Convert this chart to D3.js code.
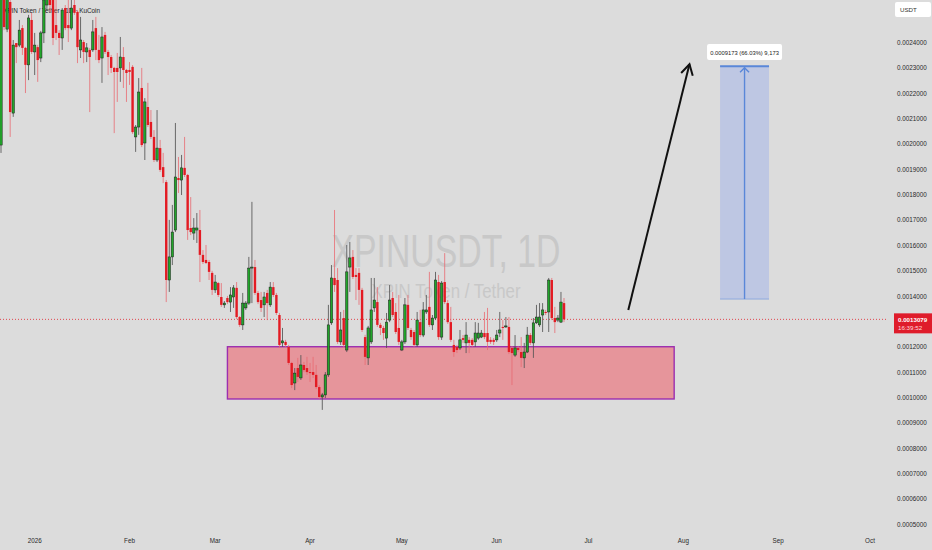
<!DOCTYPE html>
<html>
<head>
<meta charset="utf-8">
<script src="https://cdn.jsdelivr.net/npm/d3@7"></script>
<style>
  body { margin: 0; background: #dcdcdc; }
  svg { display: block; font-family: "Liberation Sans", Arial, sans-serif; }
</style>
</head>
<body>
<div id="chart"></div>
<script>
// daily candles, first one on this day
const firstDay = '2025-12-21';

const open = [
  0.001995, 0.002586, 0.002452, 0.002559, 0.002121, 0.002397, 0.002389, 0.002456, 0.002378, 0.002311,
  0.002488, 0.002362, 0.002381, 0.002338, 0.002437, 0.002547, 0.002626, 0.002567, 0.002468, 0.002437,
  0.002417, 0.002535, 0.002468, 0.002456, 0.002547, 0.002520, 0.002370, 0.002401, 0.002362, 0.002370,
  0.002370, 0.002456, 0.002370, 0.002338, 0.002429, 0.002362, 0.002342, 0.002299, 0.002299, 0.002299,
  0.002342, 0.002291, 0.002291, 0.002303, 0.002027, 0.002066, 0.002220, 0.002003, 0.002145, 0.002086,
  0.002027, 0.001936, 0.001983, 0.001908, 0.001849, 0.001463, 0.001554, 0.001660, 0.001865, 0.001857,
  0.001905, 0.001877, 0.001668, 0.001648, 0.001660, 0.001660, 0.001562, 0.001542, 0.001534, 0.001491,
  0.001424, 0.001451, 0.001396, 0.001365, 0.001392, 0.001376, 0.001396, 0.001432, 0.001317, 0.001286,
  0.001353, 0.001372, 0.001510, 0.001514, 0.001412, 0.001384, 0.001365, 0.001412, 0.001365, 0.001435,
  0.001404, 0.001325, 0.001215, 0.001219, 0.001199, 0.001136, 0.001057, 0.001116, 0.001077, 0.001128,
  0.001116, 0.001100, 0.001100, 0.001089, 0.001041, 0.001002, 0.001010, 0.001089, 0.001294, 0.001471,
  0.001463, 0.001219, 0.001313, 0.001187, 0.001514, 0.001554, 0.001483, 0.001491, 0.001424, 0.001238,
  0.001156, 0.001219, 0.001353, 0.001376, 0.001286, 0.001274, 0.001234, 0.001305, 0.001392, 0.001337,
  0.001274, 0.001187, 0.001219, 0.001365, 0.001266, 0.001258, 0.001207, 0.001297, 0.001246, 0.001337,
  0.001357, 0.001286, 0.001313, 0.001455, 0.001238, 0.001455, 0.001372, 0.001297, 0.001207, 0.001199,
  0.001195, 0.001234, 0.001215, 0.001227, 0.001227, 0.001219, 0.001234, 0.001238, 0.001254, 0.001254,
  0.001227, 0.001227, 0.001227, 0.001254, 0.001278, 0.001278, 0.001278, 0.001195, 0.001167, 0.001195,
  0.001179, 0.001156, 0.001179, 0.001246, 0.001215, 0.001294, 0.001286, 0.001325, 0.001337, 0.001337,
  0.001463, 0.001313, 0.001305, 0.001297, 0.001372
];
const high = [
  0.002606, 0.002595, 0.002590, 0.002575, 0.002409, 0.002397, 0.002488, 0.002468, 0.002382, 0.002508,
  0.002516, 0.002437, 0.002390, 0.002445, 0.002586, 0.002653, 0.002646, 0.002575, 0.002567, 0.002448,
  0.002535, 0.002547, 0.002567, 0.002567, 0.002586, 0.002527, 0.002500, 0.002409, 0.002397, 0.002378,
  0.002488, 0.002500, 0.002429, 0.002460, 0.002441, 0.002370, 0.002350, 0.002303, 0.002358, 0.002421,
  0.002381, 0.002295, 0.002322, 0.002310, 0.002074, 0.002259, 0.002299, 0.002180, 0.002240, 0.002133,
  0.002054, 0.002133, 0.002015, 0.001964, 0.001857, 0.001700, 0.001759, 0.002082, 0.001948, 0.001956,
  0.002027, 0.001881, 0.001790, 0.001707, 0.001727, 0.001739, 0.001581, 0.001601, 0.001542, 0.001499,
  0.001483, 0.001455, 0.001451, 0.001380, 0.001400, 0.001435, 0.001443, 0.001455, 0.001321, 0.001412,
  0.001380, 0.001554, 0.001771, 0.001542, 0.001420, 0.001416, 0.001416, 0.001424, 0.001455, 0.001455,
  0.001412, 0.001333, 0.001274, 0.001227, 0.001207, 0.001140, 0.001116, 0.001156, 0.001167, 0.001140,
  0.001160, 0.001136, 0.001160, 0.001128, 0.001049, 0.001018, 0.001100, 0.001365, 0.001522, 0.001739,
  0.001510, 0.001337, 0.001345, 0.001601, 0.001613, 0.001581, 0.001510, 0.001510, 0.001432, 0.001247,
  0.001282, 0.001471, 0.001471, 0.001435, 0.001294, 0.001282, 0.001333, 0.001443, 0.001416, 0.001372,
  0.001404, 0.001227, 0.001392, 0.001404, 0.001274, 0.001266, 0.001337, 0.001345, 0.001376, 0.001404,
  0.001495, 0.001325, 0.001495, 0.001483, 0.001459, 0.001569, 0.001384, 0.001357, 0.001227, 0.001207,
  0.001266, 0.001246, 0.001297, 0.001238, 0.001234, 0.001297, 0.001294, 0.001266, 0.001337, 0.001353,
  0.001238, 0.001234, 0.001266, 0.001337, 0.001305, 0.001317, 0.001317, 0.001203, 0.001246, 0.001203,
  0.001238, 0.001215, 0.001278, 0.001254, 0.001313, 0.001365, 0.001372, 0.001372, 0.001345, 0.001471,
  0.001471, 0.001357, 0.001325, 0.001416, 0.001392
];
const low = [
  0.001964, 0.002448, 0.002440, 0.002027, 0.002106, 0.002318, 0.002381, 0.002350, 0.002200, 0.002251,
  0.002354, 0.002271, 0.002244, 0.002322, 0.002397, 0.002527, 0.002520, 0.002389, 0.002409, 0.002350,
  0.002370, 0.002448, 0.002401, 0.002448, 0.002508, 0.002318, 0.002338, 0.002318, 0.002322, 0.002125,
  0.002362, 0.002330, 0.002318, 0.002240, 0.002354, 0.002271, 0.002279, 0.002042, 0.002165, 0.002244,
  0.002220, 0.002165, 0.002232, 0.002039, 0.001968, 0.002035, 0.001987, 0.001936, 0.002066, 0.002019,
  0.001928, 0.001928, 0.001889, 0.001845, 0.001376, 0.001416, 0.001522, 0.001652, 0.001806, 0.001798,
  0.001869, 0.001621, 0.001640, 0.001621, 0.001609, 0.001455, 0.001526, 0.001526, 0.001463, 0.001404,
  0.001412, 0.001396, 0.001357, 0.001353, 0.001368, 0.001337, 0.001353, 0.001309, 0.001278, 0.001266,
  0.001345, 0.001365, 0.001372, 0.001404, 0.001368, 0.001337, 0.001317, 0.001305, 0.001357, 0.001396,
  0.001325, 0.001195, 0.001199, 0.001199, 0.001128, 0.001037, 0.001029, 0.001061, 0.001069, 0.001100,
  0.001089, 0.001061, 0.001077, 0.001033, 0.000994, 0.000951, 0.000998, 0.001081, 0.001286, 0.001416,
  0.001211, 0.001207, 0.001195, 0.001179, 0.001416, 0.001467, 0.001384, 0.001365, 0.001258, 0.001128,
  0.001128, 0.001211, 0.001337, 0.001278, 0.001246, 0.001227, 0.001195, 0.001297, 0.001317, 0.001250,
  0.001207, 0.001183, 0.001211, 0.001266, 0.001227, 0.001199, 0.001199, 0.001238, 0.001238, 0.001329,
  0.001278, 0.001266, 0.001305, 0.001227, 0.001227, 0.001368, 0.001290, 0.001219, 0.001160, 0.001175,
  0.001187, 0.001215, 0.001175, 0.001175, 0.001199, 0.001199, 0.001227, 0.001234, 0.001230, 0.001187,
  0.001211, 0.001207, 0.001219, 0.001238, 0.001227, 0.001274, 0.001171, 0.001049, 0.001160, 0.001179,
  0.001120, 0.001116, 0.001175, 0.001207, 0.001156, 0.001290, 0.001278, 0.001258, 0.001325, 0.001258,
  0.001305, 0.001254, 0.001297, 0.001294, 0.001297
];
const close = [
  0.002586, 0.002460, 0.002579, 0.002125, 0.002389, 0.002381, 0.002448, 0.002378, 0.002311, 0.002496,
  0.002362, 0.002389, 0.002330, 0.002437, 0.002567, 0.002626, 0.002547, 0.002417, 0.002437, 0.002417,
  0.002527, 0.002456, 0.002456, 0.002535, 0.002516, 0.002381, 0.002409, 0.002362, 0.002378, 0.002342,
  0.002441, 0.002370, 0.002330, 0.002421, 0.002362, 0.002342, 0.002299, 0.002283, 0.002283, 0.002342,
  0.002291, 0.002279, 0.002283, 0.002046, 0.002066, 0.002204, 0.001995, 0.002165, 0.002074, 0.002027,
  0.001936, 0.001983, 0.001897, 0.001869, 0.001463, 0.001554, 0.001652, 0.001869, 0.001857, 0.001905,
  0.001877, 0.001660, 0.001652, 0.001668, 0.001668, 0.001562, 0.001534, 0.001530, 0.001495, 0.001424,
  0.001455, 0.001404, 0.001365, 0.001372, 0.001376, 0.001404, 0.001432, 0.001317, 0.001286, 0.001372,
  0.001372, 0.001510, 0.001514, 0.001412, 0.001376, 0.001353, 0.001396, 0.001372, 0.001435, 0.001404,
  0.001333, 0.001207, 0.001223, 0.001207, 0.001136, 0.001049, 0.001096, 0.001081, 0.001128, 0.001108,
  0.001100, 0.001096, 0.001089, 0.001041, 0.001002, 0.001010, 0.001089, 0.001286, 0.001471, 0.001443,
  0.001219, 0.001266, 0.001207, 0.001495, 0.001550, 0.001475, 0.001475, 0.001424, 0.001266, 0.001160,
  0.001274, 0.001345, 0.001384, 0.001286, 0.001274, 0.001254, 0.001297, 0.001384, 0.001325, 0.001258,
  0.001219, 0.001219, 0.001365, 0.001274, 0.001238, 0.001207, 0.001305, 0.001246, 0.001345, 0.001345,
  0.001286, 0.001313, 0.001463, 0.001238, 0.001451, 0.001376, 0.001297, 0.001227, 0.001179, 0.001187,
  0.001227, 0.001227, 0.001246, 0.001215, 0.001207, 0.001254, 0.001254, 0.001254, 0.001238, 0.001219,
  0.001219, 0.001219, 0.001246, 0.001266, 0.001274, 0.001282, 0.001179, 0.001175, 0.001195, 0.001187,
  0.001156, 0.001179, 0.001246, 0.001215, 0.001294, 0.001317, 0.001317, 0.001345, 0.001333, 0.001463,
  0.001313, 0.001297, 0.001313, 0.001376, 0.0013079
];

const priceTicks = [0.0005, 0.0006, 0.0007, 0.0008, 0.0009, 0.0010, 0.0011, 0.0012, 0.0013, 0.0014,
  0.0015, 0.0016, 0.0017, 0.0018, 0.0019, 0.0020, 0.0021, 0.0022, 0.0023, 0.0024];
const monthDates = ['2026-01-01', '2026-02-01', '2026-03-01', '2026-04-01', '2026-05-01',
  '2026-06-01', '2026-07-01', '2026-08-01', '2026-09-01', '2026-10-01'];
const monthLabels = ['2026', 'Feb', 'Mar', 'Apr', 'May', 'Jun', 'Jul', 'Aug', 'Sep', 'Oct'];

const lastPrice = 0.0013079;
const lastCountdown = '16:39:52';

// support box
const zoneDates = ['2026-03-05', '2026-07-29'];
const zonePrices = [0.000994, 0.0012];

// price range projection
const targetDates = ['2026-08-13', '2026-08-29'];
const targetPrices = [0.0013879, 0.0023052];
const targetLabel = '0.0009173 (66.03%) 9,173';

// hand drawn arrow
const arrowDates = ['2026-07-14', '2026-08-03'];
const arrowPrices = [0.0013448, 0.0023133];

const width = 932;
const height = 550;
const plot = { left: 0, top: 0, right: 888, bottom: 532 };

const svg = d3.select('#chart')
  .append('svg')
  .attr('width', width)
  .attr('height', height);

svg.append('defs').append('clipPath').attr('id', 'plot-clip')
  .append('rect')
  .attr('x', plot.left).attr('y', plot.top)
  .attr('width', plot.right - plot.left).attr('height', plot.bottom - plot.top);

const xScale = d3.scaleUtc()
  .domain([new Date(firstDay), new Date('2026-10-01')])
  .range([1, 870]);

const yScale = d3.scaleLinear()
  .domain([0.0005, 0.0024])
  .range([524.3, 42.3]);

const days = d3.utcDay.range(new Date(firstDay), d3.utcDay.offset(new Date(firstDay), close.length));
const candles = days.map((date, i) => ({ date, o: open[i], h: high[i], l: low[i], c: close[i] }));

const main = svg.append('g').attr('clip-path', 'url(#plot-clip)');

// watermark
main.append('text')
  .attr('x', 446).attr('y', 267)
  .attr('text-anchor', 'middle')
  .attr('font-size', 47)
  .attr('textLength', 229)
  .attr('lengthAdjust', 'spacingAndGlyphs')
  .attr('fill', '#c8c8c8')
  .text('XPINUSDT, 1D');
main.append('text')
  .attr('x', 446).attr('y', 298)
  .attr('text-anchor', 'middle')
  .attr('font-size', 20)
  .attr('textLength', 149)
  .attr('lengthAdjust', 'spacingAndGlyphs')
  .attr('fill', '#c8c8c8')
  .text('XPIN Token / Tether');

main.append('text')
  .attr('x', 3).attr('y', 12.5)
  .attr('font-size', 6.4)
  .attr('fill', '#222')
  .text('XPIN Token / Tether · 1D · KuCoin');

// support zone
const zx0 = xScale(new Date(zoneDates[0]));
const zx1 = xScale(new Date(zoneDates[1]));
main.append('rect')
  .attr('x', zx0)
  .attr('y', yScale(zonePrices[1]))
  .attr('width', zx1 - zx0)
  .attr('height', yScale(zonePrices[0]) - yScale(zonePrices[1]))
  .attr('fill', '#e6959b')
  .attr('stroke', '#9c2fb0')
  .attr('stroke-width', 1.4);

// projection box
const tx0 = xScale(new Date(targetDates[0]));
const tx1 = xScale(new Date(targetDates[1]));
const tyTop = yScale(targetPrices[1]);
const tyBottom = yScale(targetPrices[0]);
const txMid = (tx0 + tx1) / 2;
main.append('rect')
  .attr('x', tx0).attr('y', tyTop)
  .attr('width', tx1 - tx0).attr('height', tyBottom - tyTop)
  .attr('fill', '#bec7e3');
main.append('line')
  .attr('x1', tx0).attr('x2', tx1).attr('y1', tyTop).attr('y2', tyTop)
  .attr('stroke', '#5a87d8').attr('stroke-width', 2);
main.append('line')
  .attr('x1', tx0).attr('x2', tx1).attr('y1', tyBottom).attr('y2', tyBottom)
  .attr('stroke', '#7f9edc').attr('stroke-width', 0.8);
main.append('line')
  .attr('x1', txMid).attr('x2', txMid).attr('y1', tyBottom).attr('y2', tyTop + 1)
  .attr('stroke', '#5a87d8').attr('stroke-width', 1.4);
main.append('path')
  .attr('d', `M${txMid - 4.5},${tyTop + 6}L${txMid},${tyTop + 1.5}L${txMid + 4.5},${tyTop + 6}`)
  .attr('fill', 'none').attr('stroke', '#5a87d8').attr('stroke-width', 1.4);

// label above the projection
main.append('rect')
  .attr('x', txMid - 37.5).attr('y', 44)
  .attr('width', 75).attr('height', 16)
  .attr('rx', 2)
  .attr('fill', '#ffffff');
main.append('text')
  .attr('x', txMid).attr('y', 54.5)
  .attr('text-anchor', 'middle')
  .attr('font-size', 5.8)
  .attr('fill', '#222')
  .text(targetLabel);

// black arrow
const ax0 = xScale(new Date(arrowDates[0]));
const ay0 = yScale(arrowPrices[0]);
const ax1 = xScale(new Date(arrowDates[1]));
const ay1 = yScale(arrowPrices[1]);
const ang = Math.atan2(ay0 - ay1, ax0 - ax1);
const headLen = 12;
main.append('line')
  .attr('x1', ax0).attr('y1', ay0).attr('x2', ax1).attr('y2', ay1)
  .attr('stroke', '#111').attr('stroke-width', 2);
main.append('path')
  .attr('d', `M${ax1 + headLen * Math.cos(ang + 0.52)},${ay1 + headLen * Math.sin(ang + 0.52)}` +
    `L${ax1},${ay1}` +
    `L${ax1 + headLen * Math.cos(ang - 0.52)},${ay1 + headLen * Math.sin(ang - 0.52)}`)
  .attr('fill', 'none').attr('stroke', '#111').attr('stroke-width', 2)
  .attr('stroke-linejoin', 'miter');

// last price line
main.append('line')
  .attr('x1', plot.left).attr('x2', plot.right)
  .attr('y1', yScale(lastPrice)).attr('y2', yScale(lastPrice))
  .attr('stroke', '#e0464f').attr('stroke-width', 1)
  .attr('stroke-dasharray', '1,2');

// candles
const upBody = '#22a52b';
const downBody = '#e31b23';
const bars = main.append('g').attr('class', 'candles');

bars.selectAll('line')
  .data(candles)
  .join('line')
  .attr('x1', (d) => xScale(d.date))
  .attr('x2', (d) => xScale(d.date))
  .attr('y1', (d) => yScale(d.h))
  .attr('y2', (d) => yScale(d.l))
  .attr('stroke', (d) => (d.c >= d.o ? '#555' : '#e86a72'))
  .attr('stroke-opacity', (d) => (d.c >= d.o ? 0.85 : 0.8))
  .attr('stroke-width', 1);

bars.selectAll('rect')
  .data(candles)
  .join('rect')
  .attr('x', (d) => xScale(d.date) - 1.2)
  .attr('width', 2.4)
  .attr('y', (d) => yScale(Math.max(d.o, d.c)))
  .attr('height', (d) => Math.max(1, Math.abs(yScale(d.o) - yScale(d.c))))
  .attr('fill', (d) => (d.c >= d.o ? upBody : downBody))
  .attr('stroke', (d) => (d.c >= d.o ? '#1b1b1b' : 'none'))
  .attr('stroke-width', 0.5);

// price axis
const lastY = yScale(lastPrice);
const shownTicks = priceTicks.filter((p) => Math.abs(yScale(p) - lastY) > 12);

svg.append('g')
  .attr('transform', 'translate(897, 0)')
  .call(d3.axisRight(yScale)
    .tickValues(shownTicks)
    .tickFormat(d3.format('.7f'))
    .tickSize(0)
    .tickPadding(0))
  .call((g) => g.select('.domain').remove())
  .call((g) => g.selectAll('text')
    .attr('font-size', 6.3)
    .attr('font-family', '"Liberation Sans", Arial, sans-serif')
    .attr('fill', '#2a2a2a'));

// unit box
svg.append('rect')
  .attr('x', 895).attr('y', 2)
  .attr('width', 36).attr('height', 15)
  .attr('rx', 2)
  .attr('fill', '#ffffff');
svg.append('text')
  .attr('x', 900).attr('y', 12)
  .attr('font-size', 6.2)
  .attr('fill', '#333')
  .text('USDT');

// last price tag
svg.append('rect')
  .attr('x', 894).attr('y', lastY - 6)
  .attr('width', 38).attr('height', 20)
  .attr('fill', '#df1c2b');
svg.append('text')
  .attr('x', 898).attr('y', lastY + 2.2)
  .attr('font-size', 6.2)
  .attr('font-weight', 'bold')
  .attr('fill', '#ffffff')
  .text(d3.format('.7f')(lastPrice));
svg.append('text')
  .attr('x', 898).attr('y', lastY + 10.8)
  .attr('font-size', 6.2)
  .attr('fill', '#ffd9dc')
  .text(lastCountdown);

// time axis
svg.append('g')
  .selectAll('text')
  .data(monthDates)
  .join('text')
  .attr('x', (d) => xScale(new Date(d)))
  .attr('y', 543)
  .attr('text-anchor', 'middle')
  .attr('font-size', 6.3)
  .attr('fill', '#2a2a2a')
  .text((d, i) => monthLabels[i]);
</script>
</body>
</html>
